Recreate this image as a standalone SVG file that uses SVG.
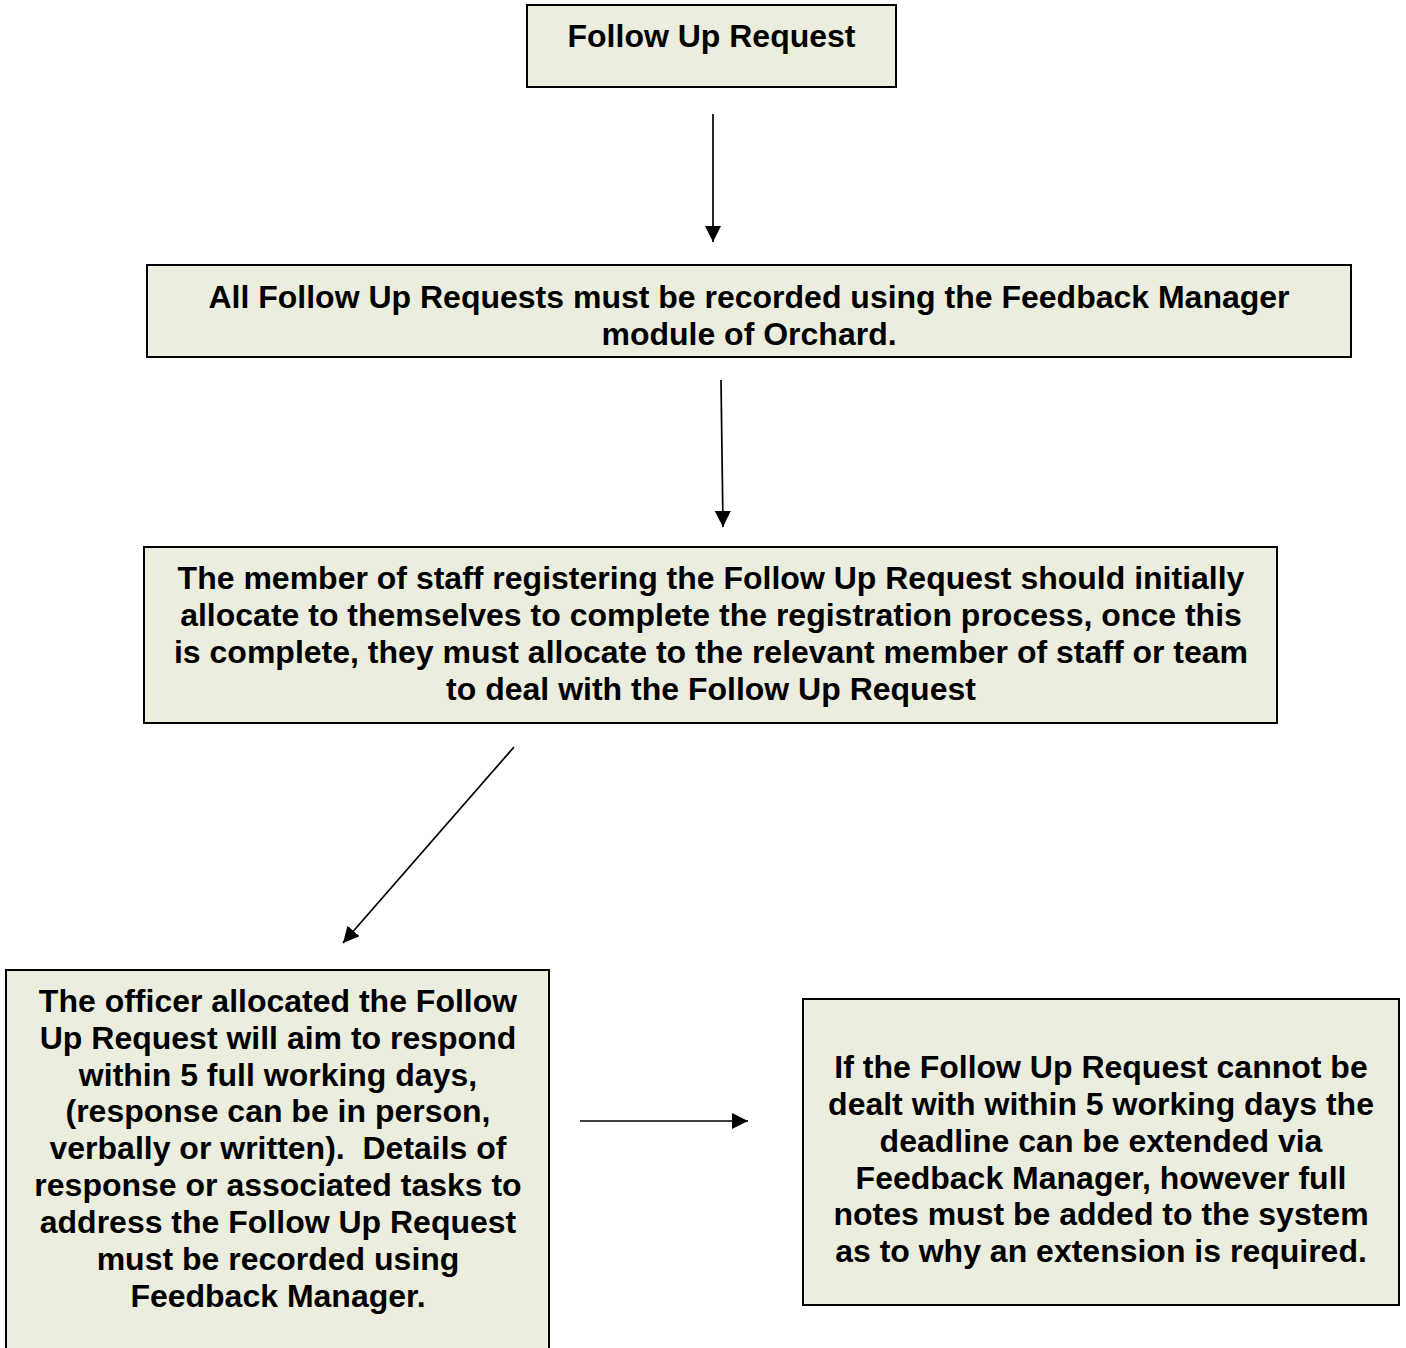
<svg xmlns="http://www.w3.org/2000/svg" width="1406" height="1348" viewBox="0 0 1406 1348">
  <style>
    .box { fill: #ebeede; stroke: #000; stroke-width: 2; }
    .label { font-family: "Liberation Sans", Arial, sans-serif; font-weight: bold; font-size: 32px; fill: #000; text-anchor: middle; }
    .conn { stroke: #000; stroke-width: 1.7; fill: none; marker-end: url(#arrowhead); }
  </style>
  <defs>
    <marker id="arrowhead" viewBox="0 0 16 16" refX="16" refY="8" markerWidth="16" markerHeight="16" markerUnits="userSpaceOnUse" orient="auto">
      <path d="M0,0 L16,8 L0,16 Z" fill="#000"/>
    </marker>
  </defs>

  <g id="node-follow-up-request">
    <rect class="box" x="527" y="5" width="369" height="82"/>
    <text class="label" x="711.5" y="47">Follow Up Request</text>
  </g>

  <g id="node-record">
    <rect class="box" x="147" y="265" width="1204" height="92"/>
    <text class="label" x="749" y="308">All Follow Up Requests must be recorded using the Feedback Manager</text>
    <text class="label" x="749" y="345">module of Orchard.</text>
  </g>

  <g id="node-allocate">
    <rect class="box" x="144" y="547" width="1133" height="176"/>
    <text class="label" x="711" y="589">The member of staff registering the Follow Up Request should initially</text>
    <text class="label" x="711" y="626">allocate to themselves to complete the registration process, once this</text>
    <text class="label" x="711" y="663">is complete, they must allocate to the relevant member of staff or team</text>
    <text class="label" x="711" y="700">to deal with the Follow Up Request</text>
  </g>

  <g id="node-respond">
    <rect class="box" x="6" y="970" width="543" height="400"/>
    <text class="label" x="278" y="1012">The officer allocated the Follow</text>
    <text class="label" x="278" y="1049">Up Request will aim to respond</text>
    <text class="label" x="278" y="1086">within 5 full working days,</text>
    <text class="label" x="278" y="1122">(response can be in person,</text>
    <text class="label" x="278" y="1159" xml:space="preserve">verbally or written).  Details of</text>
    <text class="label" x="278" y="1196">response or associated tasks to</text>
    <text class="label" x="278" y="1233">address the Follow Up Request</text>
    <text class="label" x="278" y="1270">must be recorded using</text>
    <text class="label" x="278" y="1307">Feedback Manager.</text>
  </g>

  <g id="node-extension">
    <rect class="box" x="803" y="999" width="596" height="306"/>
    <text class="label" x="1101" y="1078">If the Follow Up Request cannot be</text>
    <text class="label" x="1101" y="1115">dealt with within 5 working days the</text>
    <text class="label" x="1101" y="1152">deadline can be extended via</text>
    <text class="label" x="1101" y="1189">Feedback Manager, however full</text>
    <text class="label" x="1101" y="1225">notes must be added to the system</text>
    <text class="label" x="1101" y="1262">as to why an extension is required.</text>
  </g>

  <g id="connectors">
    <line class="conn" x1="713" y1="114" x2="713" y2="242"/>
    <line class="conn" x1="721" y1="380" x2="723" y2="527"/>
    <line class="conn" x1="514" y1="747" x2="343" y2="943"/>
    <line class="conn" x1="580" y1="1121" x2="748" y2="1121"/>
  </g>
</svg>
